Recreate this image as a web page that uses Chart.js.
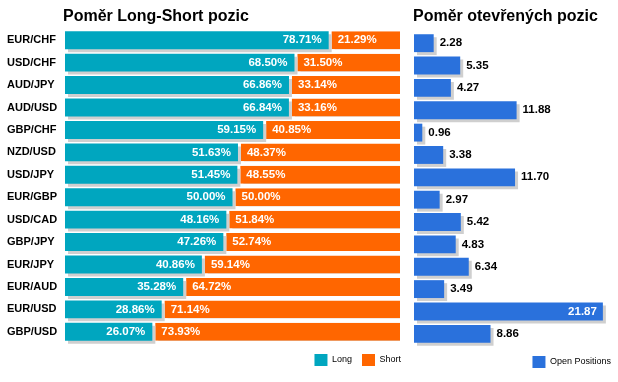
<!DOCTYPE html>
<html><head><meta charset="utf-8">
<script src="https://cdn.jsdelivr.net/npm/chart.js@4"></script>
<style>
html,body{margin:0;padding:0;background:#fff;overflow:hidden}
#wrap{position:relative;width:618px;height:382px;overflow:hidden;background:#fff}
canvas{position:absolute;top:0}
</style></head><body>
<div id="wrap">
<canvas id="ls" width="414" height="382" style="left:0"></canvas>
<canvas id="op" width="212" height="382" style="left:410px"></canvas>
</div>
<script>
const pairs = ['EUR/CHF','USD/CHF','AUD/JPY','AUD/USD','GBP/CHF','NZD/USD','USD/JPY','EUR/GBP','USD/CAD','GBP/JPY','EUR/JPY','EUR/AUD','EUR/USD','GBP/USD'];
const longPct = [78.71,68.50,66.86,66.84,59.15,51.63,51.45,50.00,48.16,47.26,40.86,35.28,28.86,26.07];
const shortPct = [21.29,31.50,33.14,33.16,40.85,48.37,48.55,50.00,51.84,52.74,59.14,64.72,71.14,73.93];
const openPositions = [2.28,5.35,4.27,11.88,0.96,3.38,11.70,2.97,5.42,4.83,6.34,3.49,21.87,8.86];
const seriesNames = ['Long','Short','Open Positions'];
const titles = ['Poměr Long-Short pozic','Poměr otevřených pozic'];

const FONT = '"Liberation Sans", Arial, sans-serif';
const TEAL = '#00a6bf', ORANGE = '#ff6600', BLUE = '#2a71dc', SHADOW = '#cfcfcf';

const shadowPlugin = {
  id: 'barShadow',
  beforeDatasetDraw(chart) {
    const c = chart.ctx; c.save();
    c.shadowColor = SHADOW; c.shadowOffsetX = 3; c.shadowOffsetY = 3; c.shadowBlur = 0;
  },
  afterDatasetDraw(chart) { chart.ctx.restore(); }
};
function titlePlugin(text, dx) {
  return {
    id: 'ttl',
    afterDraw(chart) {
      const c = chart.ctx; c.save();
      c.font = 'bold 16px ' + FONT; c.fillStyle = '#000';
      c.textAlign = 'left'; c.textBaseline = 'alphabetic';
      c.fillText(text, chart.chartArea.left + dx, 21);
      c.restore();
    }
  };
}
function fixedAxis(size) {
  return {
    display: true, grid: {display: false}, border: {display: false},
    ticks: {display: false}, afterFit(s) { if (s.isHorizontal()) s.height = size; else s.width = size; }
  };
}
const legendOpts = {
  position: 'bottom', align: 'end',
  labels: {boxWidth: 13, boxHeight: 12, padding: 10, color: '#000', font: {family: FONT, size: 9}}
};

new Chart(document.getElementById('ls'), {
  type: 'bar',
  data: {
    labels: pairs,
    datasets: [
      {label: seriesNames[0], data: longPct, backgroundColor: TEAL, borderColor: 'transparent', borderWidth: 0, clip: false},
      {label: seriesNames[1], data: shortPct, backgroundColor: ORANGE, borderColor: 'transparent',
       borderWidth: {left: 3, right: 0, top: 0, bottom: 0}, borderSkipped: false, clip: false}
    ]
  },
  options: {
    indexAxis: 'y', responsive: false, animation: false,
    barPercentage: 0.8, categoryPercentage: 1,
    layout: {padding: {left: 7, top: 29, right: 3, bottom: 6}},
    scales: {
      x: Object.assign(fixedAxis(1), {stacked: true, min: 0, max: 100}),
      y: {stacked: true, grid: {display: false}, border: {display: false},
          ticks: {crossAlign: 'far', color: '#000', font: {family: FONT, size: 11, weight: 'bold'}},
          afterFit(s) { s.width = 58; }},
      yR: Object.assign(fixedAxis(11), {type: 'linear', position: 'right'})
    },
    plugins: {legend: legendOpts, tooltip: {enabled: false}}
  },
  plugins: [shadowPlugin, titlePlugin(titles[0], -2), {
    id: 'lbl',
    afterDatasetsDraw(chart) {
      const c = chart.ctx; c.save();
      c.font = 'bold 11.5px ' + FONT; c.fillStyle = '#fff'; c.textBaseline = 'middle';
      chart.getDatasetMeta(0).data.forEach((el, i) => {
        c.textAlign = 'right'; c.fillText(longPct[i].toFixed(2) + '%', el.x - 7, el.y);
      });
      chart.getDatasetMeta(1).data.forEach((el, i) => {
        c.textAlign = 'left'; c.fillText(shortPct[i].toFixed(2) + '%', Math.min(el.x, el.base) + 9, el.y);
      });
      c.restore();
    }
  }]
});

new Chart(document.getElementById('op'), {
  type: 'bar',
  data: {
    labels: pairs,
    datasets: [
      {label: seriesNames[2], data: openPositions, backgroundColor: BLUE, borderColor: 'transparent', borderWidth: 0, clip: false}
    ]
  },
  options: {
    indexAxis: 'y', responsive: false, animation: false,
    barPercentage: 0.8, categoryPercentage: 1,
    layout: {padding: {left: 4, top: 32, right: 1, bottom: 4}},
    scales: {
      x: Object.assign(fixedAxis(1), {min: 0, max: 22}),
      y: {display: false},
      yR: Object.assign(fixedAxis(17), {type: 'linear', position: 'right'})
    },
    plugins: {legend: legendOpts, tooltip: {enabled: false}}
  },
  plugins: [shadowPlugin, titlePlugin(titles[1], -1), {
    id: 'lbl2',
    afterDatasetsDraw(chart) {
      const c = chart.ctx; c.save();
      c.font = 'bold 11.5px ' + FONT; c.textBaseline = 'middle';
      chart.getDatasetMeta(0).data.forEach((el, i) => {
        const t = openPositions[i].toFixed(2);
        const w = c.measureText(t).width;
        if (el.x + 6 + w <= chart.chartArea.right) {
          c.fillStyle = '#000'; c.textAlign = 'left'; c.fillText(t, el.x + 6, el.y);
        } else {
          c.fillStyle = '#fff'; c.textAlign = 'right'; c.fillText(t, el.x - 6, el.y);
        }
      });
      c.restore();
    }
  }]
});
</script>
</body></html>
